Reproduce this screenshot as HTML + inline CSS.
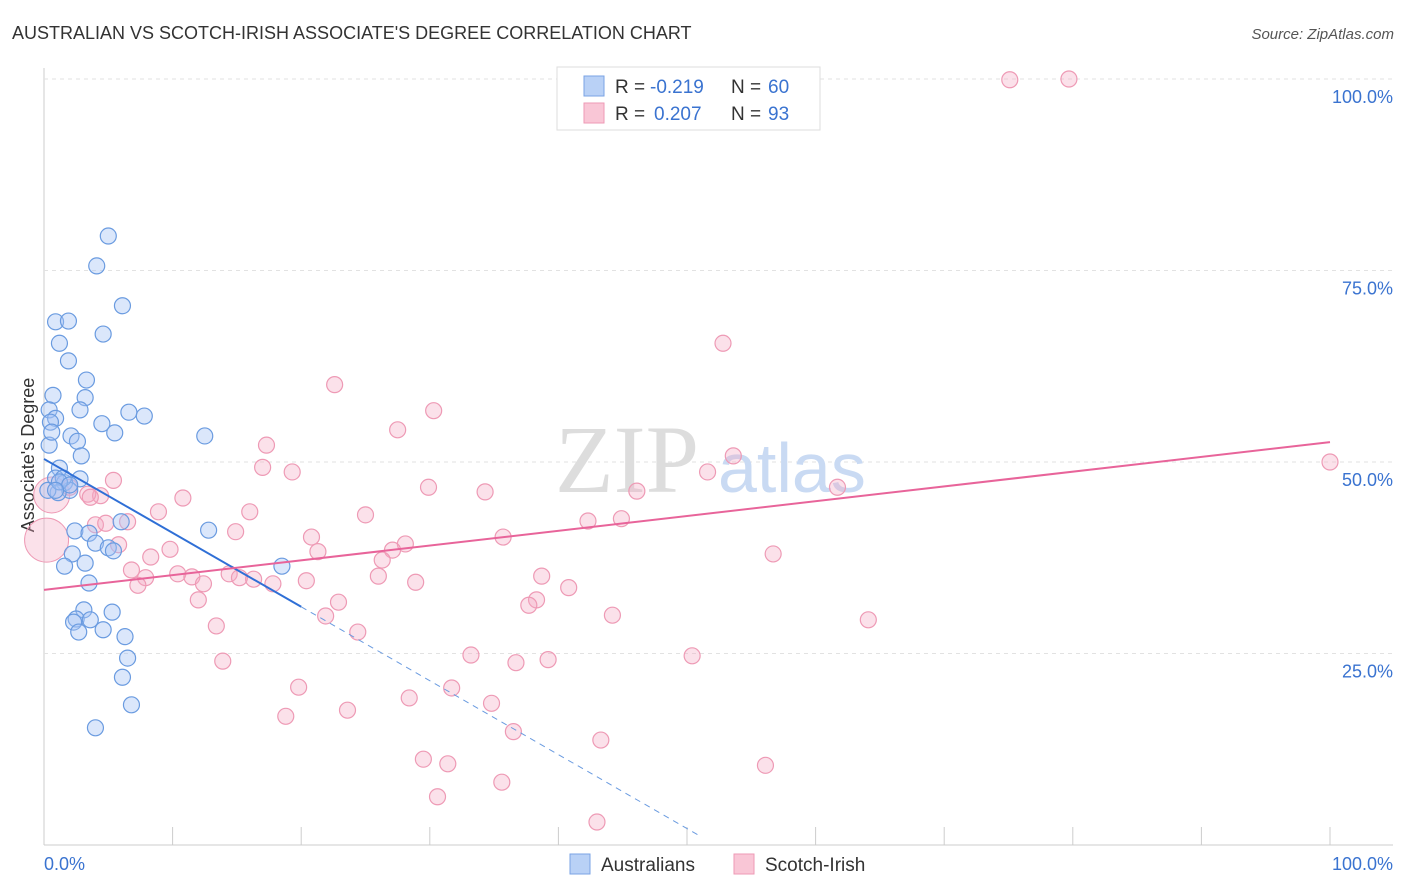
<!DOCTYPE html>
<html><head><meta charset="utf-8"><style>
body{margin:0;background:#fff;font-family:"Liberation Sans",sans-serif;}
svg{display:block}
</style></head><body>
<svg id="chart" width="1406" height="892">
<text x="12" y="39" font-size="18" fill="#333">AUSTRALIAN VS SCOTCH-IRISH ASSOCIATE'S DEGREE CORRELATION CHART</text>
<text x="1394" y="39" font-size="15" fill="#555" font-style="italic" text-anchor="end">Source: ZipAtlas.com</text>
<text x="34" y="455" font-size="18" fill="#333" text-anchor="middle" transform="rotate(-90 34 455)">Associate's Degree</text>
<g id="grid"></g>
<g><text x="555" y="492" font-size="96" fill="#ddd" font-family="Liberation Serif,serif">ZIP</text><text x="718" y="492" font-size="70" fill="#c9daf3">atlas</text></g>
<g id="marks"></g>
<g>
<rect x="557" y="67" width="263" height="63" fill="#fff" stroke="#ddd"/>
<rect x="584" y="76" width="20" height="20" fill="#b9d1f6" stroke="#7aa3e4"/>
<rect x="584" y="103" width="20" height="20" fill="#f9c6d6" stroke="#ee9ab5"/>
<text x="615" y="93" font-size="19" fill="#333">R =</text>
<text x="650" y="93" font-size="19" fill="#3a73d0">-0.219</text>
<text x="731" y="93" font-size="19" fill="#333">N =</text>
<text x="768" y="93" font-size="19" fill="#3a73d0">60</text>
<text x="615" y="120" font-size="19" fill="#333">R =</text>
<text x="654" y="120" font-size="19" fill="#3a73d0">0.207</text>
<text x="731" y="120" font-size="19" fill="#333">N =</text>
<text x="768" y="120" font-size="19" fill="#3a73d0">93</text>
</g>
<g>
<rect x="570" y="854" width="20" height="20" fill="#b9d1f6" stroke="#7aa3e4"/>
<text x="601" y="871" font-size="19" fill="#333">Australians</text>
<rect x="734" y="854" width="20" height="20" fill="#f9c6d6" stroke="#ee9ab5"/>
<text x="765" y="871" font-size="19" fill="#333">Scotch-Irish</text>
</g>
</svg>
<script>
const yTicks=[25,50,75,100];
const yTickLabels=["25.0%","50.0%","75.0%","100.0%"];
const xTicks=[0,10,20,30,40,50,60,70,80,90,100];
const blueX=[5.0,4.1,6.1,0.9,1.9,4.6,1.2,1.9,3.3,0.7,3.2,2.8,0.4,0.9,6.6,7.8,4.5,5.5,2.1,2.6,0.4,12.5,2.9,1.2,2.8,0.9,1.6,2.0,1.1,0.3,6.0,2.4,3.5,12.8,4.0,5.0,5.4,2.2,1.6,3.2,18.5,3.5,3.1,5.3,2.5,2.3,3.6,2.7,4.6,6.3,6.5,6.1,6.8,4.0,0.5,0.6,1.5,1.2,2.0,0.9];
const blueY=[79.5,75.6,70.4,68.3,68.4,66.7,65.5,63.2,60.7,58.7,58.4,56.8,56.8,55.7,56.5,56.0,55.0,53.8,53.4,52.7,52.2,53.4,50.8,49.2,47.8,47.9,47.3,46.3,46.0,46.3,42.2,41.0,40.7,41.1,39.4,38.8,38.4,38.0,36.4,36.8,36.4,34.2,30.7,30.4,29.5,29.1,29.4,27.8,28.1,27.2,24.4,21.9,18.3,15.3,55.2,53.9,47.9,47.4,47.0,46.3];
const pinkX=[75.1,79.7,52.8,22.6,30.3,27.5,17.3,100,53.6,17.0,19.3,51.6,5.4,61.7,46.1,29.9,34.3,10.8,4.4,3.4,16.0,8.9,25.0,44.9,42.3,4.0,4.8,6.5,14.9,20.8,35.7,28.1,5.8,9.8,27.1,21.3,8.3,56.7,26.3,6.8,7.9,10.4,14.4,15.2,16.3,11.5,12.4,17.8,20.4,26.0,28.9,38.7,40.8,7.3,12.0,22.9,38.3,37.7,44.2,21.9,64.1,13.4,24.4,33.2,50.4,39.2,36.7,13.9,19.8,31.7,28.4,34.8,23.6,18.8,36.5,43.3,29.5,31.4,56.1,30.6,35.6,43.0,2.0,3.6];
const pinkY=[99.9,100,65.5,60.1,56.7,54.2,52.2,50.0,50.8,49.3,48.7,48.7,47.6,46.7,46.2,46.7,46.1,45.3,45.6,45.8,43.5,43.5,43.1,42.6,42.3,41.8,42.0,42.2,40.9,40.2,40.2,39.3,39.2,38.6,38.5,38.3,37.6,38.0,37.2,35.9,34.9,35.4,35.4,34.9,34.7,35.0,34.1,34.1,34.5,35.1,34.3,35.1,33.6,33.9,32.0,31.7,32.0,31.3,30.0,29.9,29.4,28.6,27.8,24.8,24.7,24.2,23.8,24.0,20.6,20.5,19.2,18.5,17.6,16.8,14.8,13.7,11.2,10.6,10.4,6.3,8.2,3.0,46.7,45.4];
const bigPinkX=[0.2,0.6];
const bigPinkY=[39.8,45.7];
const blueTrend=[50.4,31.1];
const blueTrendEnd=[20,51];
const pinkTrend=[33.3,52.6];
const X=v=>44+v*12.86, Y=v=>845-v*7.66;
const NS="http://www.w3.org/2000/svg";
function mk(t,a,p){const e=document.createElementNS(NS,t);for(const k in a)e.setAttribute(k,a[k]);p.appendChild(e);return e;}
const grid=document.getElementById('grid'), marks=document.getElementById('marks');
mk('line',{x1:44,y1:845,x2:1393,y2:845,stroke:'#ccc'},grid);
mk('line',{x1:44,y1:68,x2:44,y2:845,stroke:'#ccc'},grid);
mk('line',{x1:44,y1:79,x2:1393,y2:79,stroke:'#ddd','stroke-dasharray':'4,4'},grid);
yTicks.forEach((t,i)=>{
 const l=mk('line',{x1:44,y1:Y(t),x2:1393,y2:Y(t),stroke:'#e2e2e2','stroke-dasharray':'4,4'},grid);
 
 
 const tx=mk('text',{x:1393,y:Y(t)+24,'font-size':18,fill:'#3a73d0','text-anchor':'end'},grid);
 tx.textContent=yTickLabels[i];
 
 
});
xTicks.forEach(t=>{
 const l=mk('line',{x1:X(t),y1:827,x2:X(t),y2:845,stroke:'#ccc'},grid);
 
 
});
const t0=mk('text',{x:44,y:870,'font-size':18,fill:'#3a73d0'},grid);t0.textContent='0.0%';


const t1=mk('text',{x:1393,y:870,'font-size':18,fill:'#3a73d0','text-anchor':'end'},grid);t1.textContent='100.0%';


bigPinkX.forEach((x,i)=>{
 const c=mk('circle',{cx:X(x),cy:Y(bigPinkY[i]),r:i==0?22:18,fill:'rgba(244,170,195,0.35)',stroke:'#ee9ab5'},marks);
 
 
});
pinkX.forEach((x,i)=>{
 const c=mk('circle',{cx:X(x),cy:Y(pinkY[i]),r:8,fill:'rgba(244,170,195,0.35)',stroke:'#ee9ab5','stroke-width':1.2},marks);
 
 
});
blueX.forEach((x,i)=>{
 const c=mk('circle',{cx:X(x),cy:Y(blueY[i]),r:8,fill:'rgba(164,194,244,0.4)',stroke:'#6a9be0','stroke-width':1.2},marks);
 
 
});
const slope=(blueTrend[1]-blueTrend[0])/blueTrendEnd[0];
const bl=mk('line',{x1:X(0),y1:Y(blueTrend[0]),x2:X(blueTrendEnd[0]),y2:Y(blueTrend[1]),stroke:'#2f6fd6','stroke-width':2},marks);


const bd=mk('line',{x1:X(blueTrendEnd[0]),y1:Y(blueTrend[1]),x2:X(blueTrendEnd[1]),y2:Y(blueTrend[0]+slope*blueTrendEnd[1]),stroke:'#6a9be0','stroke-width':1,'stroke-dasharray':'6,5'},marks);


const pl=mk('line',{x1:X(0),y1:Y(pinkTrend[0]),x2:X(100),y2:Y(pinkTrend[1]),stroke:'#e8649a','stroke-width':2},marks);


</script>
</body></html>
